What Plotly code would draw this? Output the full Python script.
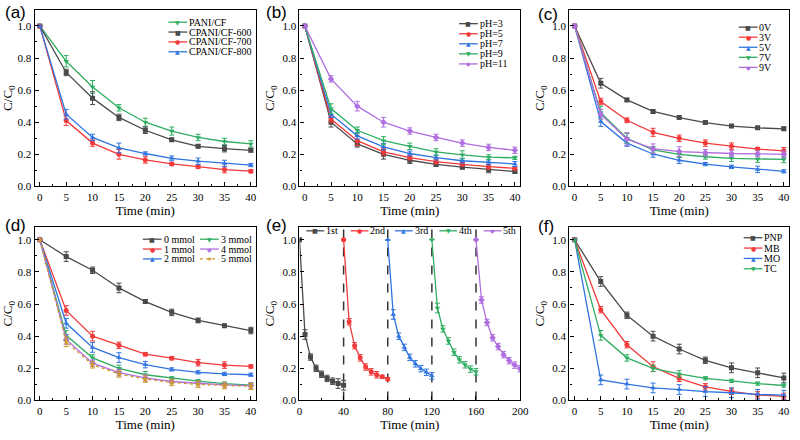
import plotly.graph_objects as go

# ---- data ----
t = [0, 5, 10, 15, 20, 25, 30, 35, 40]

a_names = ["PANI/CF", "CPANI/CF-600", "CPANI/CF-700", "CPANI/CF-800"]
a_vals = [
    [1.0, 0.78, 0.62, 0.49, 0.40, 0.345, 0.305, 0.28, 0.265],
    [1.0, 0.71, 0.55, 0.43, 0.35, 0.29, 0.25, 0.235, 0.225],
    [1.0, 0.41, 0.27, 0.20, 0.165, 0.14, 0.123, 0.105, 0.095],
    [1.0, 0.45, 0.305, 0.24, 0.205, 0.175, 0.157, 0.143, 0.133],
]
a_err = [
    [0, 0.035, 0.04, 0.02, 0.025, 0.025, 0.02, 0.02, 0.02],
    [0, 0.02, 0.04, 0.02, 0.02, 0.01, 0.01, 0.02, 0.01],
    [0, 0.03, 0.02, 0.03, 0.02, 0.01, 0.01, 0.02, 0.01],
    [0, 0.03, 0.02, 0.03, 0.01, 0.015, 0.02, 0.02, 0.01],
]

b_names = ["pH=3", "pH=5", "pH=7", "pH=9", "pH=11"]
b_vals = [
    [1.0, 0.40, 0.265, 0.20, 0.163, 0.137, 0.12, 0.105, 0.093],
    [1.0, 0.42, 0.285, 0.215, 0.18, 0.155, 0.138, 0.123, 0.113],
    [1.0, 0.45, 0.315, 0.247, 0.205, 0.18, 0.16, 0.15, 0.14],
    [1.0, 0.485, 0.35, 0.285, 0.25, 0.215, 0.197, 0.182, 0.178],
    [1.0, 0.67, 0.50, 0.40, 0.345, 0.305, 0.27, 0.243, 0.225],
]
b_err = [
    [0, 0.03, 0.02, 0.03, 0.02, 0.01, 0.01, 0.02, 0.01],
    [0, 0.02, 0.03, 0.02, 0.015, 0.015, 0.01, 0.015, 0.01],
    [0, 0.02, 0.02, 0.02, 0.015, 0.015, 0.015, 0.015, 0.015],
    [0, 0.03, 0.02, 0.025, 0.02, 0.02, 0.025, 0.015, 0.01],
    [0, 0.02, 0.03, 0.03, 0.02, 0.02, 0.02, 0.02, 0.02],
]

c_names = ["0V", "3V", "5V", "7V", "9V"]
c_vals = [
    [1.0, 0.643, 0.539, 0.467, 0.429, 0.398, 0.376, 0.365, 0.359],
    [1.0, 0.529, 0.412, 0.337, 0.30, 0.27, 0.251, 0.233, 0.222],
    [1.0, 0.404, 0.27, 0.202, 0.163, 0.139, 0.122, 0.106, 0.094],
    [1.0, 0.46, 0.30, 0.228, 0.20, 0.185, 0.175, 0.17, 0.168],
    [1.0, 0.45, 0.295, 0.235, 0.217, 0.21, 0.205, 0.203, 0.20],
]
c_err = [
    [0, 0.03, 0.01, 0.01, 0.005, 0.005, 0.005, 0.005, 0.01],
    [0, 0.02, 0.015, 0.025, 0.02, 0.02, 0.02, 0.01, 0.02],
    [0, 0.03, 0.02, 0.02, 0.02, 0.01, 0.01, 0.02, 0.01],
    [0, 0.04, 0.03, 0.02, 0.02, 0.015, 0.02, 0.02, 0.02],
    [0, 0.03, 0.04, 0.03, 0.03, 0.02, 0.02, 0.02, 0.02],
]

d_names = ["0 mmol", "1 mmol", "2 mmol", "3 mmol", "4 mmol", "5 mmol"]
d_vals = [
    [1.0, 0.895, 0.81, 0.70, 0.615, 0.548, 0.498, 0.465, 0.435],
    [1.0, 0.56, 0.40, 0.343, 0.288, 0.263, 0.235, 0.22, 0.212],
    [1.0, 0.48, 0.33, 0.267, 0.223, 0.193, 0.175, 0.165, 0.16],
    [1.0, 0.405, 0.265, 0.20, 0.16, 0.138, 0.12, 0.105, 0.095],
    [1.0, 0.38, 0.232, 0.173, 0.14, 0.118, 0.107, 0.097, 0.092],
    [1.0, 0.365, 0.222, 0.165, 0.133, 0.112, 0.10, 0.092, 0.088],
]
d_err = [
    [0, 0.03, 0.02, 0.03, 0.01, 0.02, 0.015, 0.01, 0.02],
    [0, 0.03, 0.03, 0.02, 0.01, 0.01, 0.02, 0.02, 0.01],
    [0, 0.03, 0.03, 0.03, 0.02, 0.01, 0.01, 0.01, 0.01],
    [0, 0.03, 0.02, 0.02, 0.02, 0.01, 0.01, 0.01, 0.01],
    [0, 0.03, 0.02, 0.02, 0.02, 0.01, 0.01, 0.015, 0.02],
    [0, 0.03, 0.02, 0.02, 0.02, 0.02, 0.02, 0.02, 0.02],
]

e_names = ["1st", "2nd", "3rd", "4th", "5th"]
e_starts = [0, 40, 80, 120, 160]
e_vals = [
    [1.0, 0.41, 0.27, 0.20, 0.163, 0.137, 0.12, 0.105, 0.095],
    [1.0, 0.49, 0.34, 0.265, 0.208, 0.178, 0.16, 0.147, 0.133],
    [1.0, 0.535, 0.40, 0.33, 0.268, 0.228, 0.198, 0.175, 0.153],
    [1.0, 0.575, 0.445, 0.37, 0.30, 0.253, 0.222, 0.195, 0.178],
    [1.0, 0.625, 0.485, 0.39, 0.335, 0.285, 0.248, 0.22, 0.198],
]
e_err = [
    [0, 0.03, 0.02, 0.02, 0.02, 0.02, 0.02, 0.03, 0.03],
    [0, 0.02, 0.02, 0.02, 0.02, 0.02, 0.02, 0.01, 0.01],
    [0, 0.03, 0.02, 0.02, 0.02, 0.02, 0.02, 0.02, 0.02],
    [0, 0.03, 0.02, 0.02, 0.02, 0.02, 0.02, 0.02, 0.02],
    [0, 0.02, 0.02, 0.02, 0.02, 0.02, 0.02, 0.02, 0.02],
]
e_breaks = [40, 80, 120, 160]

f_names = ["PNP", "MB", "MO", "TC"]
f_vals = [
    [1.0, 0.74, 0.53, 0.40, 0.32, 0.25, 0.203, 0.172, 0.14],
    [1.0, 0.565, 0.347, 0.21, 0.138, 0.085, 0.057, 0.035, 0.025],
    [1.0, 0.128, 0.102, 0.078, 0.068, 0.055, 0.048, 0.038, 0.033],
    [1.0, 0.405, 0.265, 0.20, 0.165, 0.138, 0.122, 0.105, 0.093],
]
f_err = [
    [0, 0.03, 0.02, 0.03, 0.03, 0.02, 0.03, 0.03, 0.03],
    [0, 0.02, 0.02, 0.03, 0.02, 0.02, 0.02, 0.02, 0.02],
    [0, 0.03, 0.03, 0.03, 0.03, 0.03, 0.03, 0.03, 0.03],
    [0, 0.03, 0.02, 0.02, 0.02, 0.01, 0.01, 0.01, 0.01],
]

# ---- style ----
GRAY, RED, BLUE, GREEN, PURPLE, GOLD = (
    "#4a4a4a", "#f23a3a", "#2f74e0", "#2fae62", "#b06ee0", "#cc9a2a")
SERIF = "Liberation Serif, Times New Roman, serif"

# Origin-like symbol per colour (plotly symbol, glyph for the legend key)
SYM = {GRAY: "square", RED: "circle", BLUE: "triangle-up",
       GREEN: "triangle-down", PURPLE: "diamond", GOLD: "star"}
GLYPH = {GRAY: "■", RED: "●", BLUE: "▲", GREEN: "▼", PURPLE: "◆", GOLD: "★"}

W, H = 800, 440
cols = [(32, 257), (301, 525), (575, 798)]
rows = [(10, 189), (230, 406)]


def dom_x(c):
    return [cols[c][0] / W, cols[c][1] / W]


def dom_y(r):
    return [1 - rows[r][1] / H, 1 - rows[r][0] / H]


fig = go.Figure()


def add_series(k, x, y, err, name, color, dash="solid"):
    fig.add_trace(go.Scatter(
        x=x, y=y, name=name, mode="lines+markers",
        xaxis=f"x{k}", yaxis=f"y{k}", showlegend=False,
        line=dict(color=color, width=1.3, dash=dash),
        marker=dict(symbol=SYM[color], size=5, color=color),
        error_y=dict(type="data", array=err, color=color, thickness=1, width=2.5),
    ))


def legend_key(px, py, name, color, dash="solid", length=19):
    """Small Origin-style legend key drawn in paper pixels."""
    fig.add_shape(type="line", xref="paper", yref="paper",
                  x0=px / W, x1=(px + length) / W, y0=1 - py / H, y1=1 - py / H,
                  line=dict(color=color, width=1.3, dash=dash))
    fig.add_annotation(text=GLYPH[color], xref="paper", yref="paper",
                       x=(px + length / 2) / W, y=1 - py / H, showarrow=False,
                       xanchor="center", yanchor="middle", borderpad=0,
                       font=dict(family="DejaVu Sans", size=6, color=color))
    fig.add_annotation(text=name, xref="paper", yref="paper",
                       x=(px + length + 1) / W, y=1 - py / H, showarrow=False,
                       xanchor="left", yanchor="middle", borderpad=0,
                       font=dict(family=SERIF, size=10, color="black"))


pal4a = [GREEN, GRAY, RED, BLUE]
for n, v, e, c in zip(a_names, a_vals, a_err, pal4a):
    add_series(1, t, v, e, n, c)

pal5 = [GRAY, RED, BLUE, GREEN, PURPLE]
for n, v, e, c in zip(b_names, b_vals, b_err, pal5):
    add_series(2, t, v, e, n, c)
for n, v, e, c in zip(c_names, c_vals, c_err, pal5):
    add_series(3, t, v, e, n, c)

pal6 = [GRAY, RED, BLUE, GREEN, PURPLE, GOLD]
for n, v, e, c in zip(d_names, d_vals, d_err, pal6):
    add_series(4, t, v, e, n, c, dash="dot" if c == GOLD else "solid")

for n, s, v, e, c in zip(e_names, e_starts, e_vals, e_err, pal5):
    add_series(5, [s + ti for ti in t], v, e, n, c)

pal4f = [GRAY, RED, BLUE, GREEN]
for n, v, e, c in zip(f_names, f_vals, f_err, pal4f):
    add_series(6, t, v, e, n, c)

# cycle separators in (e)
for b in e_breaks:
    fig.add_shape(type="line", xref="x5", yref="y5 domain", x0=b, x1=b, y0=0, y1=1,
                  line=dict(color="#333333", width=1.5, dash="dash"), layer="below")

# legend keys
for i, (n, c) in enumerate(zip(a_names, pal4a)):
    legend_key(168, 22.5 + 10 * i, n, c)
for i, (n, c) in enumerate(zip(b_names, pal5)):
    legend_key(463, 24 + 10.2 * i, n, c)
for i, (n, c) in enumerate(zip(c_names, pal5)):
    legend_key(747, 27.5 + 10.2 * i, n, c)
for i, (n, c) in enumerate(zip(d_names, pal6)):
    legend_key(142 if i < 3 else 200, 242.5 + 10 * (i % 3), n, c,
               dash="dot" if c == GOLD else "solid")
for i, (n, c) in enumerate(zip(e_names, pal5)):
    legend_key(308 + 45 * i, 234, n, c, length=18)
for i, (n, c) in enumerate(zip(f_names, pal4f)):
    legend_key(752, 241 + 10.5 * i, n, c)

axis_common = dict(
    showline=True, mirror=True, linecolor="black", linewidth=1.3,
    ticks="inside", ticklen=4, tickwidth=1, tickcolor="black",
    showgrid=False, zeroline=False,
    tickfont=dict(family=SERIF, size=11, color="black"),
)

layout = dict(
    width=W, height=H, margin=dict(l=0, r=0, t=0, b=0),
    paper_bgcolor="white", plot_bgcolor="white",
    font=dict(family=SERIF, size=11, color="black"),
    showlegend=False,
)

panels = [(0, 0), (0, 1), (0, 2), (1, 0), (1, 1), (1, 2)]
for k, (r, c) in enumerate(panels, start=1):
    sfx = "" if k == 1 else str(k)
    if k == 5:
        xr, xd, mdt = [0, 200], 40, 20
    else:
        xr, xd, mdt = [-1, 41], 5, 2.5
    yr = [0, 1.1] if r == 0 else [0, 1.08]
    layout[f"xaxis{sfx}"] = dict(
        axis_common, domain=dom_x(c), anchor=f"y{k}", range=xr, dtick=xd, tick0=0,
        minor=dict(ticks="inside", ticklen=2, dtick=mdt, tick0=0, tickcolor="black"),
        title=dict(text="Time (min)", font=dict(family=SERIF, size=13), standoff=4),
    )
    layout[f"yaxis{sfx}"] = dict(
        axis_common, domain=dom_y(r), anchor=f"x{k}", range=yr, dtick=0.2, tick0=0,
        tickformat=".1f",
        minor=dict(ticks="inside", ticklen=2, dtick=0.1, tick0=0, tickcolor="black"),
        title=dict(text="C/C<sub>0</sub>", font=dict(family=SERIF, size=13), standoff=4),
    )

fig.update_layout(**layout)

labels = ["(a)", "(b)", "(c)", "(d)", "(e)", "(f)"]
label_pos = [(0, 13), (265, 13), (541, 15), (0, 229), (265, 229), (541, 230)]
for txt, (px, py) in zip(labels, label_pos):
    fig.add_annotation(text=txt, xref="paper", yref="paper", x=px / W, y=1 - py / H,
                       xanchor="left", yanchor="middle", showarrow=False,
                       font=dict(family="Liberation Sans", size=17, color="black"))

# drop the browser's default body margin so the 800x440 figure fills the window
fig.write_html("out.html", config={"displayModeBar": False},
               post_script="document.body.style.margin='0px';")
